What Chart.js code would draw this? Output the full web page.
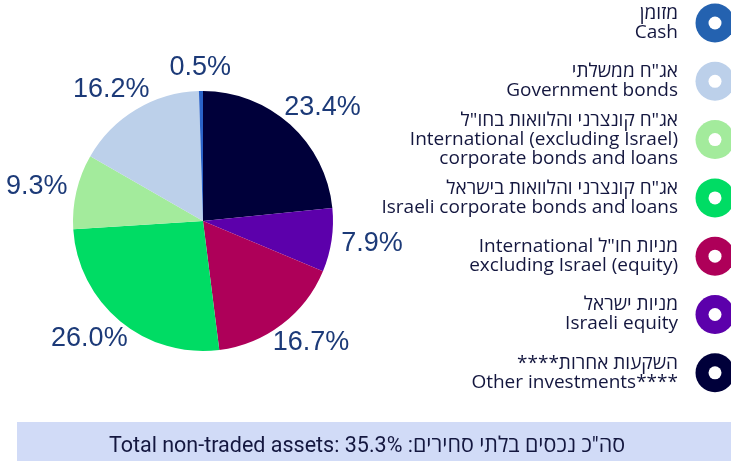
<!DOCTYPE html>
<html>
<head>
<meta charset="utf-8">
<title>Non-traded assets</title>
<script src="https://cdn.jsdelivr.net/npm/chart.js@4.4.1/dist/chart.umd.min.js"></script>
<style>
    html, body { margin: 0; padding: 0; background: #ffffff; }
    #chart { display: block; }
</style>
</head>
<body>
<canvas id="chart" width="731" height="461"></canvas>
<script>
console.log('Loading: chart');

/* Assigning variables (pie order, clockwise from the top) */
const categories = [
    'Other investments',
    'Israeli equity',
    'International excluding Israel (equity)',
    'Israeli corporate bonds and loans',
    'International (excluding Israel) corporate bonds and loans',
    'Government bonds',
    'Cash'
];
const values = [23.4, 7.9, 16.7, 26.0, 9.3, 16.2, 0.5];
const colors = ['#00003a', '#5c00ab', '#ae0059', '#00dc64', '#a3eb9c', '#bcd0ea', '#2a62c8'];
const iconColors = ['#00003a', '#5c00ab', '#ae0059', '#00dc64', '#a3eb9c', '#bcd0ea', '#2462b0'];

/* legend text lines, same order as above */
const legendLines = [
    ['השקעות אחרות****', 'Other investments****'],
    ['מניות ישראל', 'Israeli equity'],
    ['מניות חו"ל International', 'excluding Israel (equity)'],
    ['אג"ח קונצרני והלוואות בישראל', 'Israeli corporate bonds and loans'],
    ['אג"ח קונצרני והלוואות בחו"ל', 'International (excluding Israel)', 'corporate bonds and loans'],
    ['אג"ח ממשלתי', 'Government bonds'],
    ['מזומן', 'Cash']
];

const totalEnglish = 'Total non-traded assets: 35.3% ';
const totalHebrew = 'סה"כ נכסים בלתי סחירים:';

const labelColor = '#1c3a78';
const textColor = '#14173f';

/* Assigning functions */
function hasHebrew(str) {
    return /[\u0590-\u05FF]/.test(str);
}

/* percentage labels just outside each slice */
const sliceLabels = {
    id: 'sliceLabels',
    afterDatasetsDraw(chart) {
        const ctx = chart.ctx;
        const meta = chart.getDatasetMeta(0);
        ctx.save();
        ctx.font = '27px "Liberation Sans", Arial, sans-serif';
        ctx.fillStyle = labelColor;
        ctx.textAlign = 'center';
        ctx.textBaseline = 'middle';
        meta.data.forEach((arc, i) => {
            const p = arc.getProps(['x', 'y', 'startAngle', 'endAngle', 'outerRadius'], true);
            const mid = (p.startAngle + p.endAngle) / 2;
            const cos = Math.cos(mid);
            const sin = Math.sin(mid);
            const text = values[i].toFixed(1) + '%';
            const halfW = ctx.measureText(text).width / 2;
            const halfH = 13;
            const r = p.outerRadius + 10;
            const x = p.x + r * cos + halfW * cos;
            const y = p.y + r * sin + halfH * sin;
            ctx.fillText(text, x, y);
        });
        ctx.restore();
    }
};

/* legend on the right and the total band at the bottom */
const sideLegend = {
    id: 'sideLegend',
    afterDraw(chart) {
        const ctx = chart.ctx;
        ctx.save();

        const iconX = 715;
        const textRight = 678;
        const lineH = 19;
        const n = legendLines.length;

        for (let k = 0; k < n; k++) {
            const i = n - 1 - k; // legend runs bottom-up in pie order
            const cy = 23 + k * 58.3;

            ctx.beginPath();
            ctx.arc(iconX, cy, 19.5, 0, Math.PI * 2);
            ctx.fillStyle = iconColors[i];
            ctx.fill();
            ctx.beginPath();
            ctx.arc(iconX, cy, 6.5, 0, Math.PI * 2);
            ctx.fillStyle = '#ffffff';
            ctx.fill();

            const lines = legendLines[i];
            const top = cy - (lines.length - 1) * lineH / 2;
            ctx.font = '19px "Open Sans", "DejaVu Sans", sans-serif';
            ctx.fillStyle = textColor;
            ctx.textBaseline = 'middle';
            ctx.textAlign = 'right';
            lines.forEach((line, j) => {
                ctx.direction = hasHebrew(line) ? 'rtl' : 'ltr';
                ctx.fillText(line, textRight, top + j * lineH);
            });
        }

        /* total band */
        ctx.direction = 'ltr';
        ctx.fillStyle = '#d1dbf7';
        ctx.fillRect(17, 422, 731 - 17, 39);

        ctx.font = '21.5px Roboto, "Open Sans", "DejaVu Sans", sans-serif';
        ctx.fillStyle = textColor;
        ctx.textBaseline = 'alphabetic';
        const wE = ctx.measureText(totalEnglish).width;
        const wH = ctx.measureText(totalHebrew).width;
        const x0 = 367 - (wE + wH) / 2;
        ctx.textAlign = 'left';
        ctx.fillText(totalEnglish, x0, 451.5);
        ctx.direction = 'rtl';
        ctx.textAlign = 'right';
        ctx.fillText(totalHebrew, x0 + wE + wH, 451.5);

        ctx.restore();
    }
};

/********************* *
 * Start of the script *
 * *********************/

new Chart('chart', {
    type: 'pie',
    data: {
        labels: categories,
        datasets: [{
            data: values,
            backgroundColor: colors,
            borderWidth: 0
        }]
    },
    options: {
        responsive: false,
        animation: false,
        layout: {
            padding: { left: 73, right: 398, top: 91, bottom: 110 }
        },
        plugins: {
            legend: { display: false },
            tooltip: { enabled: false }
        }
    },
    plugins: [sliceLabels, sideLegend]
});
</script>
</body>
</html>
